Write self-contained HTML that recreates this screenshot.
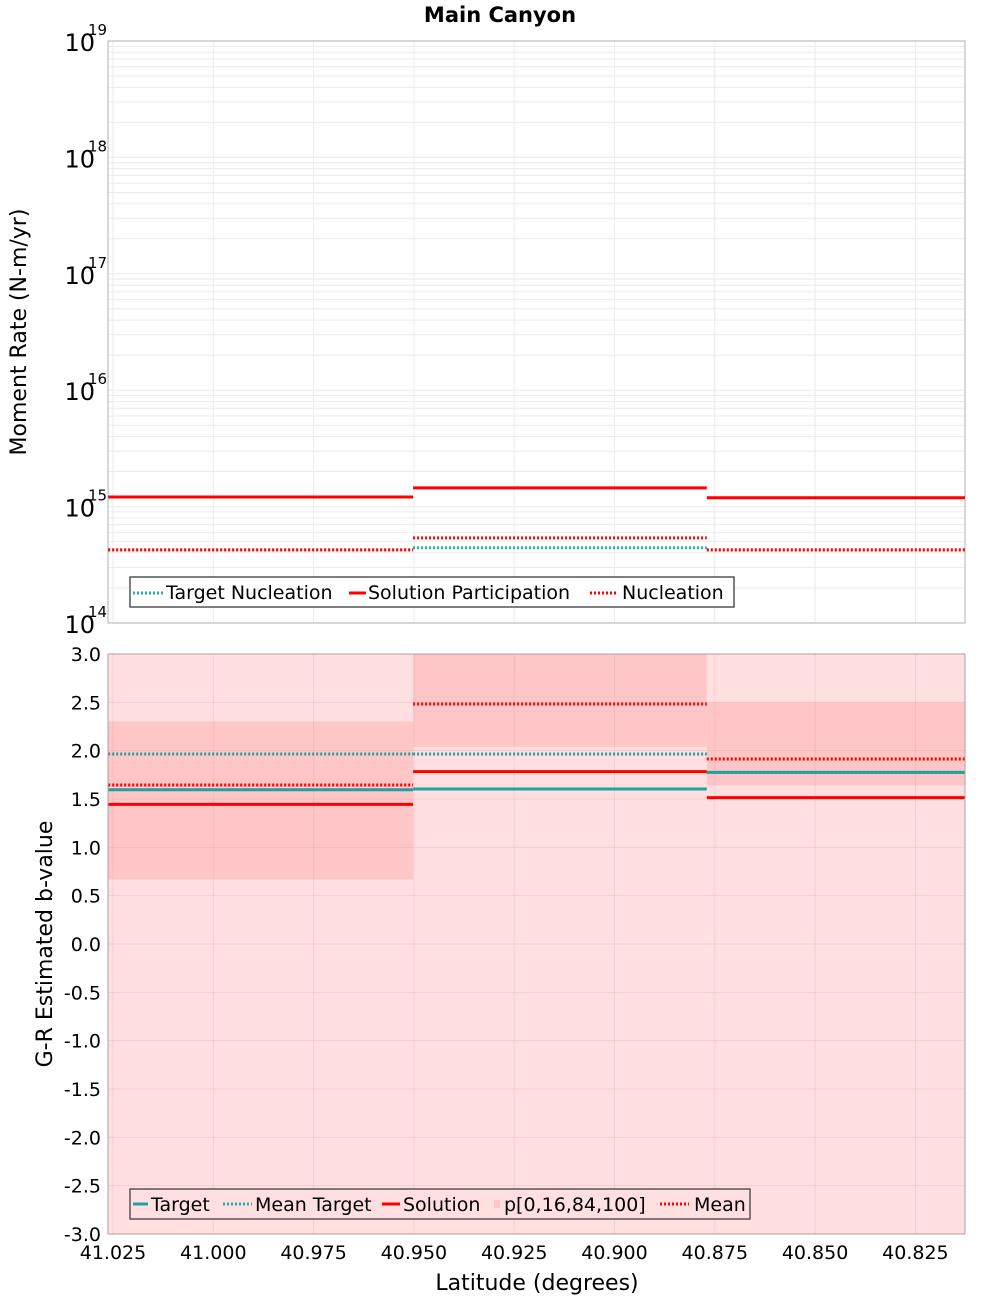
<!DOCTYPE html>
<html><head><meta charset="utf-8"><style>
html,body{margin:0;padding:0;background:#fff;}
svg{display:block;font-family:"DejaVu Sans","Liberation Sans",sans-serif;}
</style></head><body>
<svg id="chart" width="1000" height="1300" viewBox="0 0 1000 1300">
<text x="500" y="22" text-anchor="middle" font-size="21" font-weight="bold">Main Canyon</text>
<g id="top"></g>
<g id="bot"></g>
<text transform="translate(26,332) rotate(-90)" text-anchor="middle" font-size="22">Moment Rate (N-m/yr)</text>
<text transform="translate(52,944) rotate(-90)" text-anchor="middle" font-size="22">G-R Estimated b-value</text>
<text x="537" y="1290" text-anchor="middle" font-size="22">Latitude (degrees)</text>
</svg>
<script>
// data
const segStarts = [41.0262, 40.9502, 40.877];
const segEnds = [40.9502, 40.877, 40.8126];
const solutionParticipation = [1.21e15, 1.45e15, 1.19e15];
const nucleation = [4.25e14, 5.38e14, 4.25e14];
const targetNucleation = [4.25e14, 4.43e14, 4.25e14];
const bTarget = [1.596, 1.603, 1.776];
const bMeanTarget = [1.966, 1.966, 1.776];
const bSolution = [1.444, 1.783, 1.514];
const bMean = [1.645, 2.483, 1.914];
const bP0 = [-3.5, -3.5, -3.5];
const bP100 = [3.5, 3.5, 3.5];
const bP16 = [0.668, 2.04, 1.64];
const bP84 = [2.30, 3.5, 2.50];
const xTicks = [41.025, 41.000, 40.975, 40.950, 40.925, 40.900, 40.875, 40.850, 40.825];
const xTickLabels = ["41.025","41.000","40.975","40.950","40.925","40.900","40.875","40.850","40.825"];
const topDecades = [14, 15, 16, 17, 18, 19];
const bTicks = [3.0,2.5,2.0,1.5,1.0,0.5,0.0,-0.5,-1.0,-1.5,-2.0,-2.5,-3.0];

const NS = "http://www.w3.org/2000/svg";
const L = 108, R = 965;
const xs = v => 113 + (41.025 - v) / 0.025 * 100.3;
const yTop = v => 41 + (19 - Math.log10(v)) * 116.4;
const yBot = v => 654 + (3 - v) * 96.67;
function mk(parent, tag, attrs){ const e=document.createElementNS(NS,tag); for(const k in attrs) e.setAttribute(k,attrs[k]); parent.appendChild(e); return e; }
const topG = document.getElementById('top'), botG = document.getElementById('bot');
const svgEl = document.getElementById('chart');
const defs = mk(svgEl,'defs',{});
const c1 = mk(defs,'clipPath',{id:'ct'}); mk(c1,'rect',{x:L,y:41,width:R-L,height:582});
const c2 = mk(defs,'clipPath',{id:'cb'}); mk(c2,'rect',{x:L,y:654,width:R-L,height:580});

// top panel grid
for (let d=14; d<19; d++) for (let m=1; m<10; m++){
  const y = yTop(m*Math.pow(10,d));
  const g = mk(topG,'line',{x1:L,x2:R,y1:y,y2:y,stroke:'#ebebeb','stroke-width':1});
  
  
}
xTicks.forEach(t=>{ const x=xs(t); const g=mk(topG,'line',{x1:x,x2:x,y1:41,y2:623,stroke:'#ebebeb'});
  
   });
const tframe = mk(topG,'rect',{x:L,y:41,width:R-L,height:582,fill:'none',stroke:'#b0b0b0'});


topDecades.forEach(d=>{
  const y=yTop(Math.pow(10,d));
  const t=mk(topG,'text',{x:95,y:y+10,'text-anchor':'end','font-size':24}); t.textContent='10';
  
  
  const s=mk(topG,'text',{x:88,y:y-6,'font-size':15}); s.textContent=String(d);
  
  
});
const tg = mk(topG,'g',{'clip-path':'url(#ct)'});
function seg(g, arr, yf, color, dash, w, name){
  arr.forEach((v,i)=>{
    const a={x1:xs(segStarts[i]),x2:xs(segEnds[i]),y1:yf(v),y2:yf(v),stroke:color,'stroke-width':w};
    if(dash) a['stroke-dasharray']=dash;
    const l=mk(g,'line',a);
    
    
  });
}
seg(tg,targetNucleation,yTop,'#20b2aa','2 2',3,'target-nucleation');
seg(tg,nucleation,yTop,'#ff0000','2 2',3,'nucleation');
seg(tg,solutionParticipation,yTop,'#ff0000',null,3,'solution-participation');

// top legend
const tl = mk(topG,'g',{});


mk(tl,'rect',{x:130,y:577,width:604,height:30,fill:'#fff',stroke:'#555','stroke-width':1.5});
[[133,163,'#20b2aa','2 2','Target Nucleation',166],[349,366,'#ff0000',null,'Solution Participation',368],[590,618,'#ff0000','2 2','Nucleation',622]].forEach(e=>{
  const a={x1:e[0],x2:e[1],y1:593,y2:593,stroke:e[2],'stroke-width':3}; if(e[3]) a['stroke-dasharray']=e[3];
  mk(tl,'line',a);
  const t=mk(tl,'text',{x:e[5],y:599,'font-size':19}); t.textContent=e[4];
  
  
});

// bottom panel
mk(botG,'rect',{x:L,y:654,width:R-L,height:580,fill:'#fff'});
const bg = mk(botG,'g',{'clip-path':'url(#cb)'});
bP0.forEach((v,i)=>{ const r=mk(bg,'rect',{x:xs(segStarts[i]),y:yBot(bP100[i]),width:xs(segEnds[i])-xs(segStarts[i]),height:yBot(v)-yBot(bP100[i]),fill:'#ffdfe0'});
  
   });
bP16.forEach((v,i)=>{ const r=mk(bg,'rect',{x:xs(segStarts[i]),y:yBot(bP84[i]),width:xs(segEnds[i])-xs(segStarts[i]),height:yBot(v)-yBot(bP84[i]),fill:'#ffc6c7'});
  
   });
bTicks.forEach(t=>{ const y=yBot(t); const g=mk(bg,'line',{x1:L,x2:R,y1:y,y2:y,stroke:'rgba(160,120,120,0.15)'});
  
  
  const lb=mk(botG,'text',{x:101,y:y+7,'text-anchor':'end','font-size':19}); lb.textContent=t.toFixed(1);
  
   });
xTicks.forEach((t,i)=>{ const x=xs(t); const g=mk(bg,'line',{x1:x,x2:x,y1:654,y2:1234,stroke:'rgba(160,120,120,0.15)'});
  
  
  const lb=mk(botG,'text',{x:x,y:1259,'text-anchor':'middle','font-size':19}); lb.textContent=xTickLabels[i];
  
   });
seg(bg,bTarget,yBot,'#20a0a0',null,3,'target');
seg(bg,bMeanTarget,yBot,'#20a0a0','2 2',3,'mean-target');
seg(bg,bSolution,yBot,'#ff0000',null,3,'solution');
seg(bg,bMean,yBot,'#ff0000','2 2',3,'mean');
const bframe = mk(botG,'rect',{x:L,y:654,width:R-L,height:580,fill:'none',stroke:'#b0a0a0'});



// bottom legend
const bl = mk(botG,'g',{});


mk(bl,'rect',{x:130,y:1189,width:620,height:30,fill:'#ffdfe0',stroke:'#555','stroke-width':1.5});
[[133,148,'#20a0a0',null,'Target',151],[223,252,'#20b2aa','2 2','Mean Target',255],[382,400,'#ff0000',null,'Solution',403],[494,500,'#ffc6c7',null,'p[0,16,84,100]',504],[660,689,'#ff0000','2 2','Mean',694]].forEach(e=>{
  const a={x1:e[0],x2:e[1],y1:1204,y2:1204,stroke:e[2],'stroke-width':e[4]==='p[0,16,84,100]'?8:3}; if(e[3]) a['stroke-dasharray']=e[3];
  mk(bl,'line',a);
  const t=mk(bl,'text',{x:e[5],y:1211,'font-size':19}); t.textContent=e[4];
  
  
});
</script>
</body></html>
